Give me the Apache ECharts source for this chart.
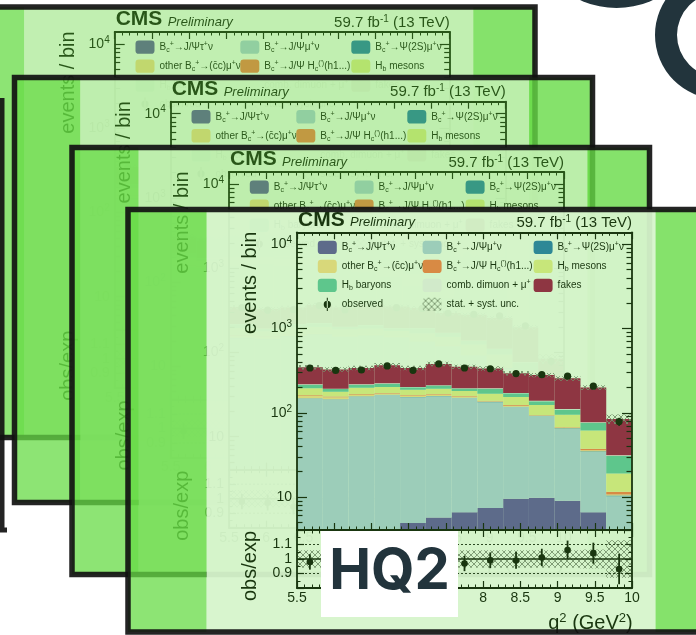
<!DOCTYPE html>
<html>
<head>
<meta charset="utf-8">
<title>HQ2 – q² distribution</title>
<script src="https://cdn.jsdelivr.net/npm/echarts@6.0.0/dist/echarts.min.js"></script>
<style>
  html, body { margin: 0; padding: 0; background: #fff; }
  #chart { width: 696px; height: 635px; }
</style>
</head>
<body>
<div id="chart"></div>
<script>
// ---- binning ---------------------------------------------------------------
const q2Min = 5.5;
const q2Max = 10;
const nBins = 13;

// ---- expected yields per q² bin (events / bin), stacked bottom -> top -------
const jpsiTauNu  = [2.0, 2.5, 3.0, 3.8, 4.9, 5.7, 6.6, 7.4, 9.5, 9.8, 9.0, 6.6, 3.0];
const jpsiMuNu   = [145.5, 141, 152.5, 158.7, 147.7, 151.4, 143.1, 126.1, 107.2, 81.6, 55.7, 27.8, 7.2];
const psi2sMuNu  = [1.5, 1.5, 1.5, 1.5, 1.4, 1.4, 1.3, 1.2, 1.0, 0.8, 0.6, 0.4, 0.2];
const otherBc    = [9.0, 7.5, 6.0, 5.5, 6.5, 6.0, 5.0, 2.2, 3.6, 0.9, 0.9, 1.2, 0.3];
const jpsiHc     = [3.5, 3.0, 3.0, 2.5, 2.5, 2.9, 2.5, 1.5, 2.0, 0.9, 0.9, 1.4, 0.8];
const hbMesons   = [33.9, 22.5, 32.6, 30.0, 25.0, 25.6, 23.0, 30.2, 30.7, 30.0, 27.6, 24.0, 7.5];
const hbBaryons  = [20.2, 13.5, 17.0, 19.5, 12.5, 17.0, 12.4, 24.8, 16.3, 13.2, 14.9, 14.7, 11.7];
const combDimuon = [2.0, 1.5, 2.0, 2.0, 1.5, 1.8, 1.5, 2.0, 1.5, 1.2, 1.0, 0.8, 0.5];
const fakes      = [129.4, 134, 123.4, 143.5, 139, 168.2, 155.6, 140.6, 123.2, 141.6, 145.4, 122.1, 53.1];

// ---- data and total (stat + syst) relative uncertainty ---------------------
const observed   = [340, 318, 322, 360, 319, 380, 340, 333, 292, 283, 272, 207, 78.5];
const relUnc     = [0.06, 0.06, 0.06, 0.06, 0.06, 0.06, 0.06, 0.06, 0.06, 0.06, 0.06, 0.065, 0.13];

// ---- tick labels -----------------------------------------------------------
const yDecades    = [10, 100, 1000, 10000];
const ratioLabels = [0.9, 1, 1.1];

// ---- styling ---------------------------------------------------------------
const INK  = '#000000';
const FONT = 'Liberation Sans, Arial, Helvetica, sans-serif';

const processes = [
  { id: 'tau',   values: jpsiTauNu,  color: '#5b47a5' },
  { id: 'mu',    values: jpsiMuNu,   color: '#afcae3' },
  { id: 'psi',   values: psi2sMuNu,  color: '#1c6eb4' },
  { id: 'other', values: otherBc,    color: '#ffd88f' },
  { id: 'hc',    values: jpsiHc,     color: '#ff7047' },
  { id: 'hbm',   values: hbMesons,   color: '#e9eb8f' },
  { id: 'hbb',   values: hbBaryons,  color: '#5cc0a7' },
  { id: 'comb',  values: combDimuon, color: '#f6f0fa' },
  { id: 'fakes', values: fakes,      color: '#9c0045' }
];

const legendText = {
  tau:   '{n|B}{d|c}{u|+}{n|→J/Ψτ}{u|+}{n|ν}',
  mu:    '{n|B}{d|c}{u|+}{n|→J/Ψμ}{u|+}{n|ν}',
  psi:   '{n|B}{d|c}{u|+}{n|→Ψ(2S)μ}{u|+}{n|ν}',
  other: '{n|other B}{d|c}{u|+}{n|→(c\u0304c)μ}{u|+}{n|ν}',
  hc:    '{n|B}{d|c}{u|+}{n|→J/Ψ H}{d|c}{u|(\')}{n|(h1...)}',
  hbm:   '{n|H}{d|b}{n| mesons}',
  hbb:   '{n|H}{d|b}{n| baryons}',
  comb:  '{n|comb. dimuon + μ}{u|+}',
  fakes: '{n|fakes}',
  obs:   '{n|observed}',
  unc:   '{n|stat. + syst. unc.}'
};
const legendColumns = [['tau', 'other', 'hbb', 'obs'], ['mu', 'hc', 'comb', 'unc'], ['psi', 'hbm', 'fakes']];
const legendColumnX = [20.8, 125.6, 236.6];
const OBS_ICON = 'path://M6,6.5 a3.5,3.5 0 1,0 7,0 a3.5,3.5 0 1,0 -7,0 Z M9,0 L10,0 L10,13 L9,13 Z';

// stacked slides: frame box and the plot origin inside it (back -> front)
const slides = [
  { left: -43,  top: 7,     right: 535,   bottom: 437.5, ox: 114.7, oy: 32,    tint: 0.4 },
  { left: 14.5, top: 77.5,  right: 592.5, bottom: 502.5, ox: 170.7, oy: 101.7, tint: 0.4 },
  { left: 72,   top: 147.5, right: 649.5, bottom: 574.5, ox: 229,   oy: 172,   tint: 0.4 },
  { left: 128,  top: 209.5, right: 706,   bottom: 632,   ox: 297,   oy: 232.3, tint: 0.25 }
];
const PW = 335, PH = 297.7, RH = 58;
const yMin = 0.608, yMax = 4.1425;   // log10(events) range of the upper panel

// ---- derived stacks --------------------------------------------------------
const binW = (q2Max - q2Min) / nBins;
const edge = i => q2Min + i * binW;
const lg = v => Math.log10(Math.max(v, 1e-3));

let running = new Array(nBins).fill(0);
const layers = processes.map(p => {
  const lo = running.slice();
  running = running.map((v, i) => v + p.values[i]);
  return { lo, hi: running.slice() };
});
const expected = running;

// minor tick positions on the log axis
const minorLog = [];
for (let d = 0; d <= 4; d++) for (let k = 2; k <= 9; k++) {
  const v = Math.log10(k * Math.pow(10, d));
  if (v > yMin && v < yMax) minorLog.push(v);
}

// cross-hatch used for the uncertainty bands
function makeHatch() {
  const c = document.createElement('canvas');
  c.width = 6; c.height = 6;
  const g = c.getContext('2d');
  g.strokeStyle = '#7a7a7a';
  g.lineWidth = 0.9;
  g.beginPath();
  g.moveTo(0, 6); g.lineTo(6, 0);
  g.moveTo(-1, 1); g.lineTo(1, -1);
  g.moveTo(5, 7); g.lineTo(7, 5);
  g.moveTo(0, 0); g.lineTo(6, 6);
  g.moveTo(-1, 5); g.lineTo(1, 7);
  g.moveTo(5, -1); g.lineTo(7, 1);
  g.stroke();
  return { image: c, repeat: 'repeat' };
}
const hatch = makeHatch();

function rectItem(fill) {
  return function (params, api) {
    const a = api.coord([api.value(0), api.value(3)]);
    const b = api.coord([api.value(1), api.value(2)]);
    return { type: 'rect', shape: { x: a[0], y: a[1], width: b[0] - a[0], height: b[1] - a[1] }, style: { fill } };
  };
}
function pointItem(r, lw) {
  return function (params, api) {
    const c = api.coord([api.value(0), api.value(1)]);
    const lo = api.coord([api.value(0), api.value(2)]);
    const hi = api.coord([api.value(0), api.value(3)]);
    return { type: 'group', children: [
      { type: 'line', shape: { x1: c[0], y1: lo[1], x2: c[0], y2: hi[1] }, style: { stroke: INK, lineWidth: lw } },
      { type: 'circle', shape: { cx: c[0], cy: c[1], r }, style: { fill: INK } }
    ] };
  };
}

const option = {
  backgroundColor: '#ffffff',
  animation: false,
  textStyle: { fontFamily: FONT },
  grid: [], xAxis: [], yAxis: [], series: [], legend: [],
  graphic: { elements: [] }
};
const G = option.graphic.elements;

function tickStyle(len) {
  return { show: true, inside: true, length: len, lineStyle: { color: INK, width: 1.2 } };
}
function lineStyle(show) {
  return { show, onZero: false, lineStyle: { color: INK, width: 1.8 } };
}

slides.forEach((s, fi) => {
  const zb = fi * 10;
  const { ox, oy } = s;
  const bodyX = ox - 90.5, bodyW = 449;
  const h = s.bottom - s.top;

  // slide paper
  G.push({ type: 'rect', z: zb + 1, silent: true, shape: { x: bodyX, y: s.top, width: bodyW, height: h },
           style: { fill: '#ffffff', opacity: 0.93 } });

  // grids
  const gMain = option.grid.length;
  option.grid.push({ left: ox, top: oy, width: PW, height: PH, containLabel: false, outerBoundsMode: 'none' });
  option.grid.push({ left: ox, top: oy + PH, width: PW, height: RH, containLabel: false, outerBoundsMode: 'none' });
  const gRatio = gMain + 1;

  // x axes
  const xa = option.xAxis.length;
  const xBase = (grid, pos, labels) => ({
    type: 'value', gridIndex: grid, position: pos, z: zb + 3, silent: true,
    min: q2Min, max: q2Max, interval: 0.5,
    axisLine: lineStyle(true), splitLine: { show: false },
    axisTick: tickStyle(7),
    minorTick: { show: true, splitNumber: 5, length: 3.5, lineStyle: { color: INK, width: 1 } },
    axisLabel: labels ? { show: true, color: INK, fontSize: 14, margin: 3, fontFamily: FONT } : { show: false }
  });
  option.xAxis.push(xBase(gMain, 'bottom', false));   // xa
  option.xAxis.push(xBase(gMain, 'top', false));      // xa+1
  option.xAxis.push(xBase(gRatio, 'bottom', true));   // xa+2
  option.xAxis.push(xBase(gRatio, 'top', false));     // xa+3

  // y axes
  const ya = option.yAxis.length;
  const yMainMajor = (pos, labels) => ({
    type: 'value', gridIndex: gMain, position: pos, z: zb + 3, silent: true, min: yMin, max: yMax,
    axisLine: lineStyle(true), splitLine: { show: false },
    axisTick: Object.assign(tickStyle(10), { customValues: yDecades.map(v => Math.log10(v)) }),
    axisLabel: labels ? {
      show: true, margin: 5, customValues: yDecades.map(v => Math.log10(v)),
      formatter: v => Math.round(v) === 1 ? '{n|10}' : '{n|10}{u|' + Math.round(v) + '}',
      rich: { n: { fontSize: 14, lineHeight: 18, color: INK, fontFamily: FONT },
              u: { fontSize: 10, lineHeight: 8, verticalAlign: 'top', color: INK, fontFamily: FONT } }
    } : { show: false }
  });
  const yMainMinor = pos => ({
    type: 'value', gridIndex: gMain, position: pos, z: zb + 3, silent: true, min: yMin, max: yMax,
    axisLine: { show: false }, splitLine: { show: false }, axisLabel: { show: false },
    axisTick: Object.assign(tickStyle(5.5), { customValues: minorLog })
  });
  const yRatio = (pos, labels) => ({
    type: 'value', gridIndex: gRatio, position: pos, z: zb + 3, silent: true, min: 0.8, max: 1.2, interval: 0.1,
    axisLine: lineStyle(true), splitLine: { show: false },
    axisTick: tickStyle(7),
    minorTick: { show: true, splitNumber: 2, length: 3.5, lineStyle: { color: INK, width: 1 } },
    axisLabel: labels ? { show: true, margin: 5, color: INK, fontSize: 14, fontFamily: FONT, customValues: ratioLabels } : { show: false }
  });
  option.yAxis.push(yMainMajor('left', true));   // ya
  option.yAxis.push(yMainMinor('left'));         // ya+1
  option.yAxis.push(yMainMajor('right', false)); // ya+2
  option.yAxis.push(yMainMinor('right'));        // ya+3
  option.yAxis.push(yRatio('left', true));       // ya+4
  option.yAxis.push(yRatio('right', false));     // ya+5

  const tag = id => id + '@' + fi;
  const mainAxes = { xAxisIndex: xa, yAxisIndex: ya };
  const ratioAxes = { xAxisIndex: xa + 2, yAxisIndex: ya + 4 };

  // stacked expectation
  processes.forEach((p, k) => {
    const L = layers[k];
    option.series.push(Object.assign({
      type: 'custom', name: tag(p.id), z: zb + 2, silent: true, clip: true,
      itemStyle: { color: p.color },
      encode: { x: [0, 1], y: [2, 3] },
      renderItem: rectItem(p.color),
      data: p.values.map((_, i) => [edge(i), edge(i + 1), lg(L.lo[i]), lg(L.hi[i])])
    }, mainAxes));
  });

  // uncertainty band on the total
  option.series.push(Object.assign({
    type: 'custom', name: tag('unc'), z: zb + 2, silent: true, clip: true,
    itemStyle: { color: hatch },
    encode: { x: [0, 1], y: [2, 3] },
    renderItem: rectItem(hatch),
    data: expected.map((t, i) => [edge(i), edge(i + 1), lg(t * (1 - relUnc[i])), lg(t * (1 + relUnc[i]))])
  }, mainAxes));

  // observed
  option.series.push(Object.assign({
    type: 'custom', name: tag('obs'), z: zb + 2, silent: true, clip: true,
    itemStyle: { color: INK },
    encode: { x: 0, y: [1, 2, 3] },
    renderItem: pointItem(3.6, 1.5),
    data: observed.map((o, i) => [edge(i) + binW / 2, lg(o), lg(o - Math.sqrt(o)), lg(o + Math.sqrt(o))])
  }, mainAxes));

  // ratio panel: band, reference lines, points
  option.series.push(Object.assign({
    type: 'custom', name: 'ratioBand@' + fi, z: zb + 2, silent: true, clip: true,
    encode: { x: [0, 1], y: [2, 3] },
    renderItem: rectItem(hatch),
    data: relUnc.map((u, i) => [edge(i), edge(i + 1), 1 - u, 1 + u])
  }, ratioAxes));
  option.series.push(Object.assign({
    type: 'custom', name: 'ratioRef@' + fi, z: zb + 2, silent: true, clip: true,
    encode: { y: 0 },
    renderItem: function (params, api) {
      const v = api.value(0);
      const a = api.coord([q2Min, v]), b = api.coord([q2Max, v]);
      const solid = Math.abs(v - 1) < 1e-9;
      return { type: 'line', shape: { x1: a[0], y1: a[1], x2: b[0], y2: b[1] },
               style: { stroke: INK, lineWidth: solid ? 1.5 : 0.9, lineDash: solid ? null : [2, 2] } };
    },
    data: [[1], [0.9], [1.1]]
  }, ratioAxes));
  option.series.push(Object.assign({
    type: 'custom', name: 'ratio@' + fi, z: zb + 2, silent: true, clip: true,
    encode: { x: 0, y: [1, 2, 3] },
    renderItem: pointItem(3.3, 1.8),
    data: observed.map((o, i) => {
      const t = expected[i], e = Math.sqrt(o) / t;
      return [edge(i) + binW / 2, o / t, o / t - e, o / t + e];
    })
  }, ratioAxes));

  // legend, three columns
  legendColumns.forEach((col, c) => {
    option.legend.push({
      z: zb + 3, orient: 'vertical', left: ox + legendColumnX[c], top: oy + 8.4, padding: 0,
      itemGap: 5.6, itemWidth: 19, itemHeight: 13.4, selectedMode: false,
      itemStyle: { borderWidth: 0 },
      data: col.map(id => ({ name: tag(id), icon: id === 'obs' ? OBS_ICON : 'roundRect' })),
      formatter: name => legendText[name.split('@')[0]],
      textStyle: {
        color: INK, fontSize: 10, fontFamily: FONT,
        rich: {
          n: { fontSize: 10, lineHeight: 13, color: INK, fontFamily: FONT },
          u: { fontSize: 7, lineHeight: 6, verticalAlign: 'top', color: INK, fontFamily: FONT },
          d: { fontSize: 7, lineHeight: 6, verticalAlign: 'bottom', color: INK, fontFamily: FONT }
        }
      }
    });
  });

  // titles
  const tz = zb + 3;
  G.push({ type: 'text', z: tz, silent: true, x: ox + 1, y: oy - 12.3,
           style: { text: 'CMS', fontFamily: FONT, fontWeight: 'bold', fontSize: 21, fill: INK, verticalAlign: 'middle' } });
  G.push({ type: 'text', z: tz, silent: true, x: ox + 53, y: oy - 9.6,
           style: { text: 'Preliminary', fontFamily: FONT, fontStyle: 'italic', fontSize: 13, fill: INK, verticalAlign: 'middle' } });
  G.push({ type: 'text', z: tz, silent: true, x: ox + PW, y: oy - 9.6,
           style: { text: '{n|59.7 fb}{u|-1}{n| (13 TeV)}', align: 'right', verticalAlign: 'middle',
                    rich: { n: { fontSize: 15, lineHeight: 17, fill: INK, fontFamily: FONT },
                            u: { fontSize: 10, lineHeight: 7, verticalAlign: 'top', fill: INK, fontFamily: FONT } } } });
  G.push({ type: 'text', z: tz, silent: true, x: ox - 46.5, y: oy - 0.6, rotation: Math.PI / 2,
           style: { text: 'events / bin', fontFamily: FONT, fontSize: 20, fill: INK, align: 'right', verticalAlign: 'middle' } });
  G.push({ type: 'text', z: tz, silent: true, x: ox - 46.5, y: oy + PH + 1, rotation: Math.PI / 2,
           style: { text: 'obs/exp', fontFamily: FONT, fontSize: 20, fill: INK, align: 'right', verticalAlign: 'middle' } });
  G.push({ type: 'text', z: tz, silent: true, x: ox + PW + 0.7, y: oy + 390.7,
           style: { text: '{n|q}{u|2}{n| (GeV}{u|2}{n|)}', align: 'right', verticalAlign: 'middle',
                    rich: { n: { fontSize: 20, lineHeight: 22, fill: INK, fontFamily: FONT },
                            u: { fontSize: 13, lineHeight: 9, verticalAlign: 'top', fill: INK, fontFamily: FONT } } } });

  // green wash over the slide, stronger on the side margins
  G.push({ type: 'rect', z: zb + 5, silent: true, shape: { x: bodyX, y: s.top, width: bodyW, height: h },
           style: { fill: 'rgb(100,215,60)', opacity: s.tint } });
  G.push({ type: 'rect', z: zb + 5, silent: true, shape: { x: s.left, y: s.top, width: bodyX - s.left, height: h },
           style: { fill: 'rgb(103,219,70)', opacity: 0.75 } });
  G.push({ type: 'rect', z: zb + 5, silent: true, shape: { x: bodyX + bodyW, y: s.top, width: s.right - bodyX - bodyW, height: h },
           style: { fill: 'rgb(103,219,70)', opacity: 0.8 } });
  // slide outline
  G.push({ type: 'rect', z: zb + 6, silent: true, shape: { x: s.left, y: s.top, width: s.right - s.left, height: h },
           style: { fill: 'none', stroke: '#111111', lineWidth: 5.5, opacity: 0.92 } });

  if (fi === 0) {
    // edge of a slide further back on the left
    G.push({ type: 'polyline', z: 7, silent: true, shape: { points: [[2, 98], [2, 530], [7, 530]] },
             style: { stroke: '#111111', lineWidth: 5, fill: 'none', opacity: 0.92 } });
  }
});

// label card and logo pieces
G.push({ type: 'rect', z: 100, silent: true, shape: { x: 321, y: 531, width: 137, height: 86 }, style: { fill: '#ffffff' } });
G.push({ type: 'text', z: 101, silent: true, x: 389.5, y: 572,
         style: { text: 'HQ2', fontFamily: 'Inter', fontWeight: 'bold', fontSize: 56, fill: '#22343c', align: 'center', verticalAlign: 'middle' } });
G.push({ type: 'ring', z: 100, silent: true, shape: { cx: 719, cy: 35, r: 64, r0: 42 }, style: { fill: '#22343c' } });
G.push({ type: 'circle', z: 100, silent: true, shape: { cx: 616.5, cy: -79, r: 87 }, style: { fill: '#22343c' } });

const chart = echarts.init(document.getElementById('chart'), null, { renderer: 'canvas', width: 696, height: 635 });
chart.setOption(option);
</script>
</body>
</html>
